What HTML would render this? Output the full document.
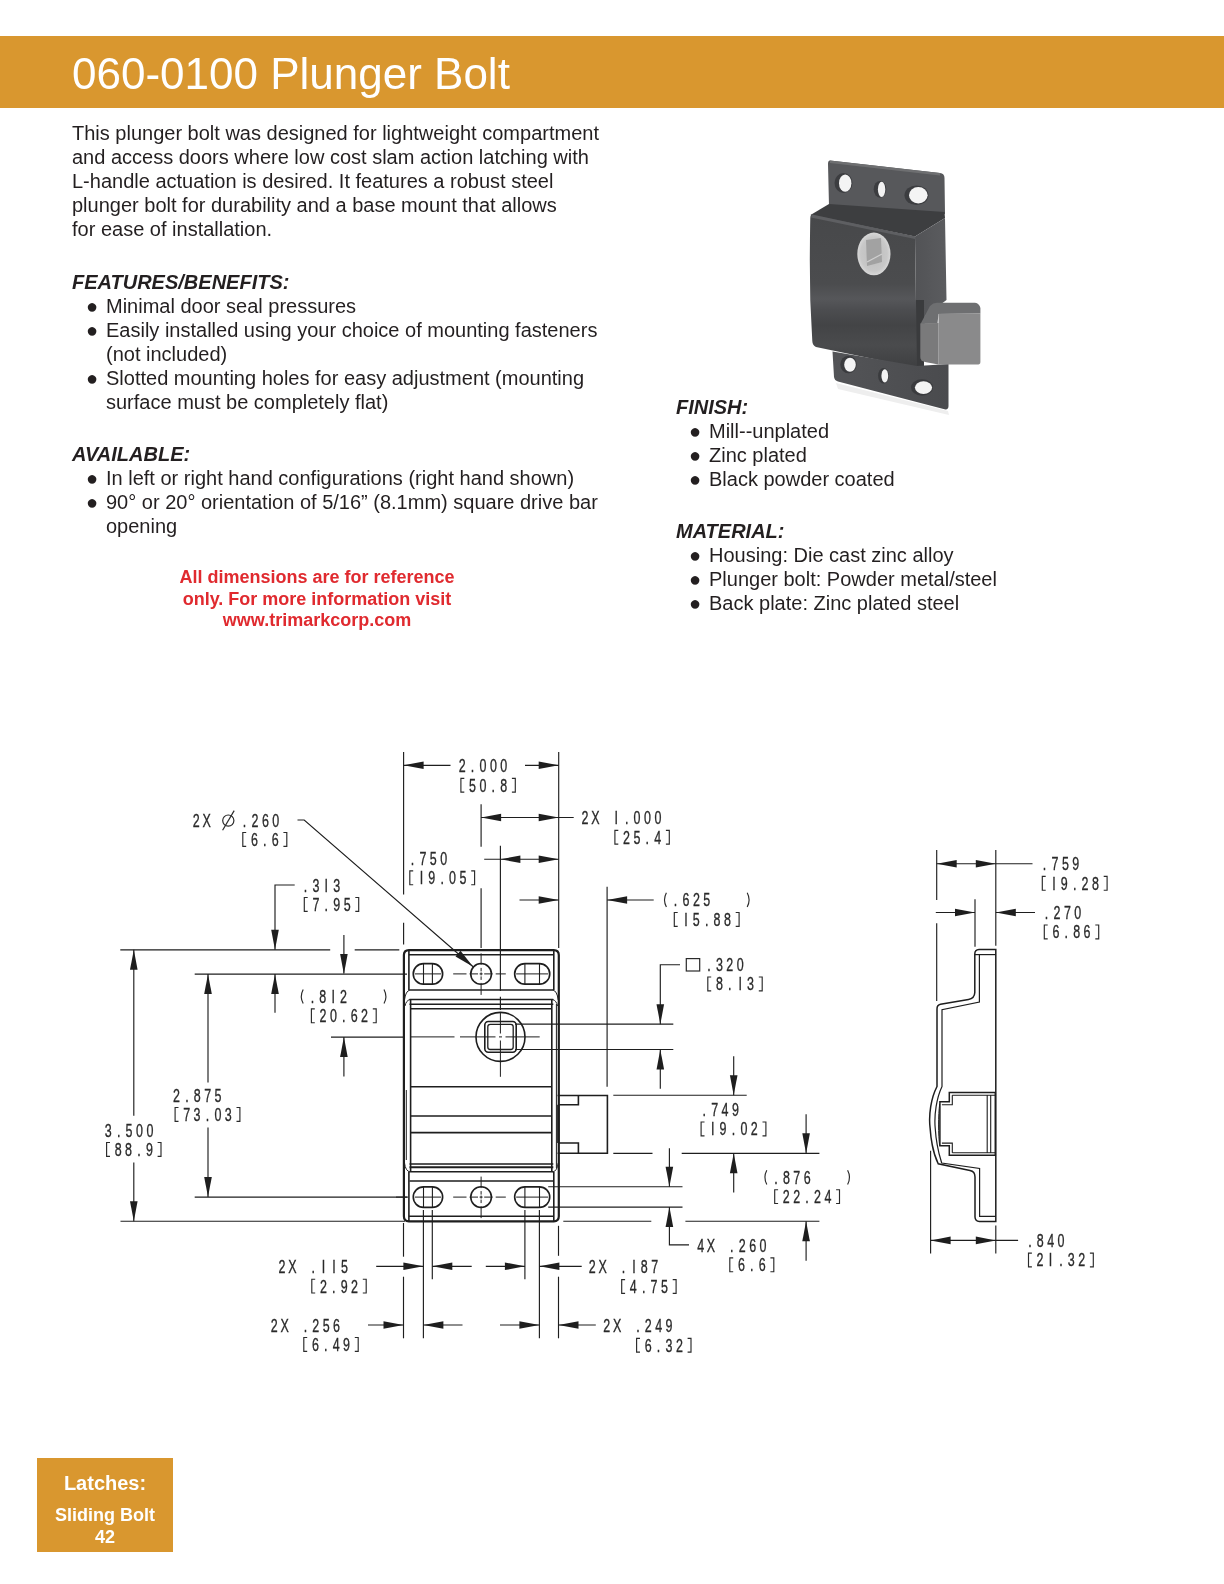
<!DOCTYPE html>
<html><head><meta charset="utf-8">
<style>
html,body{margin:0;padding:0;background:#fff;}
body{width:1224px;height:1584px;position:relative;overflow:hidden;font-family:"Liberation Sans",sans-serif;color:#231f20;}
.bar{position:absolute;left:0;top:36px;width:1224px;height:72px;background:#d9972f;}
.title{position:absolute;will-change:transform;left:72px;top:48px;font-size:44px;color:#fff;line-height:52px;white-space:nowrap;}
.t{position:absolute;will-change:transform;font-size:20px;line-height:24px;white-space:nowrap;}
.h{position:absolute;will-change:transform;font-size:20px;line-height:24px;font-weight:bold;font-style:italic;white-space:nowrap;}
.b{position:absolute;will-change:transform;font-size:20px;line-height:24px;white-space:nowrap;}
.red{position:absolute;will-change:transform;left:100px;width:434px;text-align:center;font-size:18px;line-height:21.7px;font-weight:bold;color:#e02a2f;}
.box{position:absolute;will-change:transform;left:37px;top:1458px;width:136px;height:94px;background:#d9972f;color:#fff;font-weight:bold;text-align:center;}
</style></head><body>
<div class="bar"></div>
<div class="title">060-0100 Plunger Bolt</div>

<div class="t" style="left:72px;top:121px">This plunger bolt was designed for lightweight compartment<br>and access doors where low cost slam action latching with<br>L-handle actuation is desired. It features a robust steel<br>plunger bolt for durability and a base mount that allows<br>for ease of installation.</div>

<div class="h" style="left:72px;top:270px">FEATURES/BENEFITS:</div>
<div class="b" style="left:86px;top:294px">●</div><div class="t" style="left:106px;top:294px">Minimal door seal pressures</div>
<div class="b" style="left:86px;top:318px">●</div><div class="t" style="left:106px;top:318px">Easily installed using your choice of mounting fasteners<br>(not included)</div>
<div class="b" style="left:86px;top:366px">●</div><div class="t" style="left:106px;top:366px">Slotted mounting holes for easy adjustment (mounting<br>surface must be completely flat)</div>

<div class="h" style="left:72px;top:442px">AVAILABLE:</div>
<div class="b" style="left:86px;top:466px">●</div><div class="t" style="left:106px;top:466px">In left or right hand configurations (right hand shown)</div>
<div class="b" style="left:86px;top:490px">●</div><div class="t" style="left:106px;top:490px">90° or 20° orientation of 5/16” (8.1mm) square drive bar<br>opening</div>

<div class="red" style="top:567px">All dimensions are for reference<br>only. For more information visit<br>www.trimarkcorp.com</div>

<div class="h" style="left:676px;top:395px">FINISH:</div>
<div class="b" style="left:689px;top:419px">●</div><div class="t" style="left:709px;top:419px">Mill--unplated</div>
<div class="b" style="left:689px;top:443px">●</div><div class="t" style="left:709px;top:443px">Zinc plated</div>
<div class="b" style="left:689px;top:467px">●</div><div class="t" style="left:709px;top:467px">Black powder coated</div>

<div class="h" style="left:676px;top:519px">MATERIAL:</div>
<div class="b" style="left:689px;top:543px">●</div><div class="t" style="left:709px;top:543px">Housing: Die cast zinc alloy</div>
<div class="b" style="left:689px;top:567px">●</div><div class="t" style="left:709px;top:567px">Plunger bolt: Powder metal/steel</div>
<div class="b" style="left:689px;top:591px">●</div><div class="t" style="left:709px;top:591px">Back plate: Zinc plated steel</div>

<div class="box">
<div style="position:absolute;left:0;width:136px;top:14.1px;font-size:20px;line-height:22px">Latches:</div>
<div style="position:absolute;left:0;width:136px;top:47px;font-size:18px;line-height:21.6px">Sliding Bolt<br>42</div>
</div>

<!--DRAWING-->
<svg style="position:absolute;left:0;top:0" width="1224" height="1584" viewBox="0 0 1224 1584">
<defs>
<linearGradient id="hf" x1="0" y1="0" x2="0" y2="1">
<stop offset="0" stop-color="#47484a"/>
<stop offset="0.45" stop-color="#4b4c4e"/>
<stop offset="0.55" stop-color="#56575a"/>
<stop offset="0.62" stop-color="#4c4d50"/>
<stop offset="0.72" stop-color="#434446"/>
<stop offset="0.85" stop-color="#4a4b4d"/>
<stop offset="1" stop-color="#3e3f41"/>
</linearGradient>
<linearGradient id="hs" x1="0" y1="0" x2="1" y2="0">
<stop offset="0" stop-color="#525356"/>
<stop offset="1" stop-color="#5b5c5f"/>
</linearGradient>
<linearGradient id="bp" x1="0" y1="0" x2="1" y2="0">
<stop offset="0" stop-color="#535457"/>
<stop offset="1" stop-color="#4a4b4e"/>
</linearGradient>
<radialGradient id="dh" cx="0.5" cy="0.5" r="0.5">
<stop offset="0" stop-color="#bdbdbd"/>
<stop offset="0.8" stop-color="#c8c8c8"/>
<stop offset="1" stop-color="#d8d8d8"/>
</radialGradient>
</defs>
<g id="photo">
<!-- soft shadow under bottom plate -->
<path d="M836,383 L948,411 L949,415 L838,389 Z" fill="#eeeeee"/>
<!-- top plate -->
<path d="M830,160.5 L940,173 Q944.5,173.6 944.5,178 L945,214 L829,206 L828,164 Q828,160.3 830,160.5 Z" fill="#57585b"/>
<path d="M830,160.5 L940,173 L940,175.5 L830,163 Z" fill="#6e6f71"/>
<!-- plate holes -->
<ellipse cx="843.5" cy="183" rx="9" ry="10" fill="#3c3d40"/>
<ellipse cx="845.2" cy="183.2" rx="6.2" ry="8.6" fill="#f4f4f4"/>
<ellipse cx="880" cy="189.3" rx="6.3" ry="8.4" fill="#3c3d40"/>
<ellipse cx="881.6" cy="189.4" rx="3.7" ry="7.6" fill="#f2f2f2"/>
<ellipse cx="916.5" cy="195.3" rx="12" ry="9.8" fill="#3c3d40"/>
<ellipse cx="918.3" cy="195.2" rx="9.3" ry="8.2" fill="#f4f4f4"/>
<!-- housing top recess -->
<path d="M810.5,215 L829,204 L944.5,212 L945,218 L915,236.5 Z" fill="#3d3e40"/>
<!-- housing right side -->
<path d="M915,236.5 L945,218 L946.5,300 L925,316 L922,368 L917,368 Z" fill="url(#hs)"/>
<path d="M915.5,300 L924,300 L924,369 L915.5,369 Z" fill="#3a3b3d"/>
<!-- housing front face -->
<path d="M812,214.5 L915,236.5 L917,368 L816,347 Q812.5,345.5 812.3,341 Q809.5,300 809.8,260 Q810,230 810.3,218 Q810.5,214.5 812,214.5 Z" fill="url(#hf)"/>
<path d="M812,214.5 L915,236.5 L915,239 L811,217.5 Z" fill="#5e5f62"/>
<!-- bottom plate -->
<path d="M832.5,351.5 L917,366 L948.5,364 L948.5,406 Q948.5,410 944.5,409.3 L838,381.5 Q834.5,380.5 834,377 Z" fill="url(#bp)"/>
<ellipse cx="848.5" cy="364.5" rx="8.2" ry="8.8" fill="#3a3b3e"/>
<ellipse cx="850" cy="364.8" rx="5.8" ry="7" fill="#f4f4f4"/>
<ellipse cx="883.5" cy="375.8" rx="5.4" ry="7.8" fill="#3a3b3e"/>
<ellipse cx="884.8" cy="375.8" rx="3.4" ry="6.6" fill="#f2f2f2"/>
<ellipse cx="922" cy="387.5" rx="11" ry="8.2" fill="#3a3b3e"/>
<ellipse cx="923.5" cy="387.6" rx="8.6" ry="6.3" fill="#f4f4f4"/>
<!-- drive hole -->
<ellipse cx="873.9" cy="253.9" rx="16.6" ry="21.4" fill="url(#dh)"/>
<path d="M866,240 L881,238 L882,262 L867,266 Z" fill="#a2a2a2"/>
<path d="M867,262 L882,254" stroke="#d0d0d0" stroke-width="1.2"/>
<!-- bolt -->
<path d="M920.5,324 L930,306 Q933,302.8 937,302.8 L975,302.8 Q979.5,303.5 980.4,308 L980.4,313.5 L938.5,314 L937.5,323.5 Z" fill="#6e6f71"/>
<path d="M938.5,313.8 L980.4,313.4 L980.4,362 Q980.4,364.6 977,364.6 L938.5,364.6 Z" fill="#8a8a8b"/>
<path d="M920.3,323.5 L938.5,323 L938.5,364.5 L925,362 Q920.3,361 920.3,357 Z" fill="#7a7a7b"/>
</g>

<path d="M464.30,778.30 H460.90 V792.10 H464.30" stroke="#2a2a2a" stroke-width="1.15" fill="none"/>
<path d="M511.90,778.30 H515.30 V792.10 H511.90" stroke="#2a2a2a" stroke-width="1.15" fill="none"/>
<path d="M246.20,832.50 H242.80 V846.30 H246.20" stroke="#2a2a2a" stroke-width="1.15" fill="none"/>
<path d="M283.40,832.50 H286.80 V846.30 H283.40" stroke="#2a2a2a" stroke-width="1.15" fill="none"/>
<path d="M618.30,830.30 H614.90 V844.10 H618.30" stroke="#2a2a2a" stroke-width="1.15" fill="none"/>
<path d="M665.90,830.30 H669.30 V844.10 H665.90" stroke="#2a2a2a" stroke-width="1.15" fill="none"/>
<path d="M413.20,870.90 H409.80 V884.70 H413.20" stroke="#2a2a2a" stroke-width="1.15" fill="none"/>
<path d="M471.20,870.90 H474.60 V884.70 H471.20" stroke="#2a2a2a" stroke-width="1.15" fill="none"/>
<path d="M307.70,897.50 H304.30 V911.30 H307.70" stroke="#2a2a2a" stroke-width="1.15" fill="none"/>
<path d="M355.30,897.50 H358.70 V911.30 H355.30" stroke="#2a2a2a" stroke-width="1.15" fill="none"/>
<path d="M666.40,892.70 Q662.60,899.80 666.40,906.90" stroke="#2a2a2a" stroke-width="1.15" fill="none"/>
<path d="M747.20,892.70 Q751.00,899.80 747.20,906.90" stroke="#2a2a2a" stroke-width="1.15" fill="none"/>
<path d="M677.70,912.50 H674.30 V926.30 H677.70" stroke="#2a2a2a" stroke-width="1.15" fill="none"/>
<path d="M735.70,912.50 H739.10 V926.30 H735.70" stroke="#2a2a2a" stroke-width="1.15" fill="none"/>
<path d="M303.20,989.40 Q299.40,996.50 303.20,1003.60" stroke="#2a2a2a" stroke-width="1.15" fill="none"/>
<path d="M384.00,989.40 Q387.80,996.50 384.00,1003.60" stroke="#2a2a2a" stroke-width="1.15" fill="none"/>
<path d="M314.80,1008.90 H311.40 V1022.70 H314.80" stroke="#2a2a2a" stroke-width="1.15" fill="none"/>
<path d="M372.80,1008.90 H376.20 V1022.70 H372.80" stroke="#2a2a2a" stroke-width="1.15" fill="none"/>
<path d="M711.20,977.00 H707.80 V990.80 H711.20" stroke="#2a2a2a" stroke-width="1.15" fill="none"/>
<path d="M758.80,977.00 H762.20 V990.80 H758.80" stroke="#2a2a2a" stroke-width="1.15" fill="none"/>
<path d="M178.50,1107.50 H175.10 V1121.30 H178.50" stroke="#2a2a2a" stroke-width="1.15" fill="none"/>
<path d="M236.50,1107.50 H239.90 V1121.30 H236.50" stroke="#2a2a2a" stroke-width="1.15" fill="none"/>
<path d="M110.00,1142.50 H106.60 V1156.30 H110.00" stroke="#2a2a2a" stroke-width="1.15" fill="none"/>
<path d="M157.60,1142.50 H161.00 V1156.30 H157.60" stroke="#2a2a2a" stroke-width="1.15" fill="none"/>
<path d="M704.50,1122.00 H701.10 V1135.80 H704.50" stroke="#2a2a2a" stroke-width="1.15" fill="none"/>
<path d="M762.50,1122.00 H765.90 V1135.80 H762.50" stroke="#2a2a2a" stroke-width="1.15" fill="none"/>
<path d="M766.80,1170.30 Q763.00,1177.40 766.80,1184.50" stroke="#2a2a2a" stroke-width="1.15" fill="none"/>
<path d="M847.60,1170.30 Q851.40,1177.40 847.60,1184.50" stroke="#2a2a2a" stroke-width="1.15" fill="none"/>
<path d="M778.10,1189.70 H774.70 V1203.50 H778.10" stroke="#2a2a2a" stroke-width="1.15" fill="none"/>
<path d="M836.10,1189.70 H839.50 V1203.50 H836.10" stroke="#2a2a2a" stroke-width="1.15" fill="none"/>
<path d="M733.20,1257.90 H729.80 V1271.70 H733.20" stroke="#2a2a2a" stroke-width="1.15" fill="none"/>
<path d="M770.40,1257.90 H773.80 V1271.70 H770.40" stroke="#2a2a2a" stroke-width="1.15" fill="none"/>
<path d="M315.20,1279.20 H311.80 V1293.00 H315.20" stroke="#2a2a2a" stroke-width="1.15" fill="none"/>
<path d="M362.80,1279.20 H366.20 V1293.00 H362.80" stroke="#2a2a2a" stroke-width="1.15" fill="none"/>
<path d="M625.10,1279.60 H621.70 V1293.40 H625.10" stroke="#2a2a2a" stroke-width="1.15" fill="none"/>
<path d="M672.70,1279.60 H676.10 V1293.40 H672.70" stroke="#2a2a2a" stroke-width="1.15" fill="none"/>
<path d="M307.20,1337.50 H303.80 V1351.30 H307.20" stroke="#2a2a2a" stroke-width="1.15" fill="none"/>
<path d="M354.80,1337.50 H358.20 V1351.30 H354.80" stroke="#2a2a2a" stroke-width="1.15" fill="none"/>
<path d="M640.00,1338.30 H636.60 V1352.10 H640.00" stroke="#2a2a2a" stroke-width="1.15" fill="none"/>
<path d="M687.60,1338.30 H691.00 V1352.10 H687.60" stroke="#2a2a2a" stroke-width="1.15" fill="none"/>
<path d="M1045.70,876.40 H1042.30 V890.20 H1045.70" stroke="#2a2a2a" stroke-width="1.15" fill="none"/>
<path d="M1103.70,876.40 H1107.10 V890.20 H1103.70" stroke="#2a2a2a" stroke-width="1.15" fill="none"/>
<path d="M1047.70,925.00 H1044.30 V938.80 H1047.70" stroke="#2a2a2a" stroke-width="1.15" fill="none"/>
<path d="M1095.30,925.00 H1098.70 V938.80 H1095.30" stroke="#2a2a2a" stroke-width="1.15" fill="none"/>
<path d="M1031.90,1253.10 H1028.50 V1266.90 H1031.90" stroke="#2a2a2a" stroke-width="1.15" fill="none"/>
<path d="M1089.90,1253.10 H1093.30 V1266.90 H1089.90" stroke="#2a2a2a" stroke-width="1.15" fill="none"/>
<circle cx="228.3" cy="820.6" r="5.6" stroke="#2a2a2a" stroke-width="1.2" fill="none"/>
<line x1="222.6" y1="830.3" x2="234.2" y2="810.6" stroke="#2a2a2a" stroke-width="1.2"/>
<rect x="686.3" y="958.6" width="13.4" height="12.4" stroke="#2a2a2a" stroke-width="1.2" fill="none"/>
<line x1="403.6" y1="752" x2="403.6" y2="894.4" stroke="#1e1e1e" stroke-width="1.15"/>
<line x1="403.6" y1="922.8" x2="403.6" y2="944.4" stroke="#1e1e1e" stroke-width="1.15"/>
<line x1="558.7" y1="752" x2="558.7" y2="948" stroke="#1e1e1e" stroke-width="1.15"/>
<line x1="403.6" y1="765.3" x2="450.5" y2="765.3" stroke="#1e1e1e" stroke-width="1.15"/>
<polygon points="403.60,765.30 423.60,761.50 423.60,769.10" fill="#1e1e1e"/>
<line x1="525" y1="765.3" x2="558.7" y2="765.3" stroke="#1e1e1e" stroke-width="1.15"/>
<polygon points="558.70,765.30 538.70,761.50 538.70,769.10" fill="#1e1e1e"/>
<line x1="481.1" y1="804.2" x2="481.1" y2="846.7" stroke="#1e1e1e" stroke-width="1.15"/>
<line x1="481.1" y1="888.3" x2="481.1" y2="948" stroke="#1e1e1e" stroke-width="1.15"/>
<line x1="481.1" y1="817.5" x2="573.7" y2="817.5" stroke="#1e1e1e" stroke-width="1.15"/>
<polygon points="481.10,817.50 501.10,813.70 501.10,821.30" fill="#1e1e1e"/>
<polygon points="558.70,817.50 538.70,813.70 538.70,821.30" fill="#1e1e1e"/>
<line x1="500.4" y1="845.8" x2="500.4" y2="991" stroke="#1e1e1e" stroke-width="1.15"/>
<line x1="500.4" y1="996.7" x2="500.4" y2="1010" stroke="#1e1e1e" stroke-width="1.15"/>
<line x1="484.2" y1="859.2" x2="558.7" y2="859.2" stroke="#1e1e1e" stroke-width="1.15"/>
<polygon points="500.40,859.20 520.40,855.40 520.40,863.00" fill="#1e1e1e"/>
<polygon points="558.70,859.20 538.70,855.40 538.70,863.00" fill="#1e1e1e"/>
<line x1="519.5" y1="900" x2="558.7" y2="900" stroke="#1e1e1e" stroke-width="1.15"/>
<polygon points="558.70,900.00 538.70,896.20 538.70,903.80" fill="#1e1e1e"/>
<line x1="607.1" y1="886.7" x2="607.1" y2="1086.7" stroke="#1e1e1e" stroke-width="1.15"/>
<line x1="607.1" y1="900" x2="653.7" y2="900" stroke="#1e1e1e" stroke-width="1.15"/>
<polygon points="607.10,900.00 627.10,896.20 627.10,903.80" fill="#1e1e1e"/>
<path d="M297.5,820 H304.2 L473.1,966.7" stroke="#1e1e1e" stroke-width="1.15" fill="none"/>
<polygon points="473.10,966.70 455.51,956.45 460.49,950.72" fill="#1e1e1e"/>
<path d="M294.7,885 H275 V949.7" stroke="#1e1e1e" stroke-width="1.15" fill="none"/>
<polygon points="275.00,949.70 271.20,929.70 278.80,929.70" fill="#1e1e1e"/>
<line x1="275" y1="974.1" x2="275" y2="1012.8" stroke="#1e1e1e" stroke-width="1.15"/>
<polygon points="275.00,974.10 271.20,994.10 278.80,994.10" fill="#1e1e1e"/>
<line x1="120.3" y1="949.8" x2="330.2" y2="949.8" stroke="#1e1e1e" stroke-width="1.15"/>
<line x1="354.7" y1="949.8" x2="399.3" y2="949.8" stroke="#1e1e1e" stroke-width="1.15"/>
<line x1="194.7" y1="974.1" x2="407" y2="974.1" stroke="#1e1e1e" stroke-width="1.15"/>
<line x1="331" y1="1037.1" x2="404" y2="1037.1" stroke="#1e1e1e" stroke-width="1.15"/>
<line x1="194.7" y1="1197.1" x2="407.7" y2="1197.1" stroke="#1e1e1e" stroke-width="1.15"/>
<line x1="120.5" y1="1221.2" x2="405" y2="1221.2" stroke="#1e1e1e" stroke-width="1.15"/>
<line x1="133.8" y1="949.8" x2="133.8" y2="1115.8" stroke="#1e1e1e" stroke-width="1.15"/>
<line x1="133.8" y1="1162.5" x2="133.8" y2="1221.2" stroke="#1e1e1e" stroke-width="1.15"/>
<polygon points="133.80,949.80 130.00,969.80 137.60,969.80" fill="#1e1e1e"/>
<polygon points="133.80,1221.20 130.00,1201.20 137.60,1201.20" fill="#1e1e1e"/>
<line x1="208" y1="974.1" x2="208" y2="1082.5" stroke="#1e1e1e" stroke-width="1.15"/>
<line x1="208" y1="1127.5" x2="208" y2="1197.1" stroke="#1e1e1e" stroke-width="1.15"/>
<polygon points="208.00,974.10 204.20,994.10 211.80,994.10" fill="#1e1e1e"/>
<polygon points="208.00,1197.10 204.20,1177.10 211.80,1177.10" fill="#1e1e1e"/>
<line x1="343.9" y1="934.9" x2="343.9" y2="973.6" stroke="#1e1e1e" stroke-width="1.15"/>
<polygon points="343.90,974.10 340.10,954.10 347.70,954.10" fill="#1e1e1e"/>
<line x1="343.9" y1="1037.1" x2="343.9" y2="1076.6" stroke="#1e1e1e" stroke-width="1.15"/>
<polygon points="343.90,1037.10 340.10,1057.10 347.70,1057.10" fill="#1e1e1e"/>
<path d="M680,964.7 H660.3 V1024.2" stroke="#1e1e1e" stroke-width="1.15" fill="none"/>
<polygon points="660.30,1024.20 656.50,1004.20 664.10,1004.20" fill="#1e1e1e"/>
<line x1="515" y1="1024.2" x2="673.3" y2="1024.2" stroke="#1e1e1e" stroke-width="1.15"/>
<line x1="515" y1="1049.5" x2="673.3" y2="1049.5" stroke="#1e1e1e" stroke-width="1.15"/>
<line x1="660.3" y1="1049.5" x2="660.3" y2="1088.7" stroke="#1e1e1e" stroke-width="1.15"/>
<polygon points="660.30,1049.50 656.50,1069.50 664.10,1069.50" fill="#1e1e1e"/>
<line x1="733.7" y1="1056.3" x2="733.7" y2="1095.2" stroke="#1e1e1e" stroke-width="1.15"/>
<polygon points="733.70,1095.20 729.90,1075.20 737.50,1075.20" fill="#1e1e1e"/>
<line x1="613.3" y1="1095.2" x2="746.7" y2="1095.2" stroke="#1e1e1e" stroke-width="1.15"/>
<line x1="613.3" y1="1153.3" x2="652.5" y2="1153.3" stroke="#1e1e1e" stroke-width="1.15"/>
<line x1="681.7" y1="1153.3" x2="819.4" y2="1153.3" stroke="#1e1e1e" stroke-width="1.15"/>
<line x1="733.7" y1="1153.3" x2="733.7" y2="1192.5" stroke="#1e1e1e" stroke-width="1.15"/>
<polygon points="733.70,1153.30 729.90,1173.30 737.50,1173.30" fill="#1e1e1e"/>
<line x1="548.2" y1="1186.7" x2="682.5" y2="1186.7" stroke="#1e1e1e" stroke-width="1.15"/>
<line x1="548.2" y1="1207.1" x2="682.5" y2="1207.1" stroke="#1e1e1e" stroke-width="1.15"/>
<line x1="669.4" y1="1148.3" x2="669.4" y2="1186.7" stroke="#1e1e1e" stroke-width="1.15"/>
<polygon points="669.40,1186.70 665.60,1166.70 673.20,1166.70" fill="#1e1e1e"/>
<path d="M669.4,1207.1 V1244.8 H689" stroke="#1e1e1e" stroke-width="1.15" fill="none"/>
<polygon points="669.40,1207.10 665.60,1227.10 673.20,1227.10" fill="#1e1e1e"/>
<line x1="563.3" y1="1221.2" x2="651.3" y2="1221.2" stroke="#1e1e1e" stroke-width="1.15"/>
<line x1="685.4" y1="1221.2" x2="819.4" y2="1221.2" stroke="#1e1e1e" stroke-width="1.15"/>
<line x1="806.1" y1="1114.3" x2="806.1" y2="1153.3" stroke="#1e1e1e" stroke-width="1.15"/>
<polygon points="806.10,1153.30 802.30,1133.30 809.90,1133.30" fill="#1e1e1e"/>
<line x1="806.1" y1="1221.2" x2="806.1" y2="1260.7" stroke="#1e1e1e" stroke-width="1.15"/>
<polygon points="806.10,1221.20 802.30,1241.20 809.90,1241.20" fill="#1e1e1e"/>
<line x1="403.5" y1="1223" x2="403.5" y2="1256.7" stroke="#1e1e1e" stroke-width="1.15"/>
<line x1="403.5" y1="1276.7" x2="403.5" y2="1338.3" stroke="#1e1e1e" stroke-width="1.15"/>
<line x1="423.4" y1="1210" x2="423.4" y2="1338.3" stroke="#1e1e1e" stroke-width="1.15"/>
<line x1="432.3" y1="1210" x2="432.3" y2="1279.2" stroke="#1e1e1e" stroke-width="1.15"/>
<line x1="524.9" y1="1210" x2="524.9" y2="1279.2" stroke="#1e1e1e" stroke-width="1.15"/>
<line x1="539.4" y1="1210" x2="539.4" y2="1338.3" stroke="#1e1e1e" stroke-width="1.15"/>
<line x1="558.5" y1="1225.8" x2="558.5" y2="1255.8" stroke="#1e1e1e" stroke-width="1.15"/>
<line x1="558.5" y1="1276.7" x2="558.5" y2="1338.3" stroke="#1e1e1e" stroke-width="1.15"/>
<line x1="376.2" y1="1266.3" x2="423.4" y2="1266.3" stroke="#1e1e1e" stroke-width="1.15"/>
<polygon points="423.40,1266.30 403.40,1262.50 403.40,1270.10" fill="#1e1e1e"/>
<line x1="432.3" y1="1266.3" x2="471.7" y2="1266.3" stroke="#1e1e1e" stroke-width="1.15"/>
<polygon points="432.30,1266.30 452.30,1262.50 452.30,1270.10" fill="#1e1e1e"/>
<line x1="485.8" y1="1266.3" x2="524.9" y2="1266.3" stroke="#1e1e1e" stroke-width="1.15"/>
<polygon points="524.90,1266.30 504.90,1262.50 504.90,1270.10" fill="#1e1e1e"/>
<line x1="539.4" y1="1266.3" x2="581.7" y2="1266.3" stroke="#1e1e1e" stroke-width="1.15"/>
<polygon points="539.40,1266.30 559.40,1262.50 559.40,1270.10" fill="#1e1e1e"/>
<line x1="368" y1="1325" x2="403.5" y2="1325" stroke="#1e1e1e" stroke-width="1.15"/>
<polygon points="403.50,1325.00 383.50,1321.20 383.50,1328.80" fill="#1e1e1e"/>
<line x1="423.4" y1="1325" x2="462.5" y2="1325" stroke="#1e1e1e" stroke-width="1.15"/>
<polygon points="423.40,1325.00 443.40,1321.20 443.40,1328.80" fill="#1e1e1e"/>
<line x1="500" y1="1325" x2="539.4" y2="1325" stroke="#1e1e1e" stroke-width="1.15"/>
<polygon points="539.40,1325.00 519.40,1321.20 519.40,1328.80" fill="#1e1e1e"/>
<line x1="558.5" y1="1325" x2="595.8" y2="1325" stroke="#1e1e1e" stroke-width="1.15"/>
<polygon points="558.50,1325.00 578.50,1321.20 578.50,1328.80" fill="#1e1e1e"/>
<line x1="936.7" y1="850" x2="936.7" y2="900" stroke="#1e1e1e" stroke-width="1.15"/>
<line x1="936.7" y1="923.3" x2="936.7" y2="1001" stroke="#1e1e1e" stroke-width="1.15"/>
<line x1="995.8" y1="850" x2="995.8" y2="945.8" stroke="#1e1e1e" stroke-width="1.15"/>
<line x1="975" y1="899.2" x2="975" y2="946.7" stroke="#1e1e1e" stroke-width="1.15"/>
<line x1="936.7" y1="863.7" x2="1032.5" y2="863.7" stroke="#1e1e1e" stroke-width="1.15"/>
<polygon points="936.70,863.70 956.70,859.90 956.70,867.50" fill="#1e1e1e"/>
<polygon points="995.80,863.70 975.80,859.90 975.80,867.50" fill="#1e1e1e"/>
<line x1="935.8" y1="912.5" x2="975" y2="912.5" stroke="#1e1e1e" stroke-width="1.15"/>
<polygon points="975.00,912.50 955.00,908.70 955.00,916.30" fill="#1e1e1e"/>
<line x1="995.8" y1="912.5" x2="1035" y2="912.5" stroke="#1e1e1e" stroke-width="1.15"/>
<polygon points="995.80,912.50 1015.80,908.70 1015.80,916.30" fill="#1e1e1e"/>
<line x1="930.6" y1="1150.7" x2="930.6" y2="1253.6" stroke="#1e1e1e" stroke-width="1.15"/>
<line x1="995.8" y1="1225.6" x2="995.8" y2="1253.6" stroke="#1e1e1e" stroke-width="1.15"/>
<line x1="930.6" y1="1240.4" x2="1018.1" y2="1240.4" stroke="#1e1e1e" stroke-width="1.15"/>
<polygon points="930.60,1240.40 950.60,1236.60 950.60,1244.20" fill="#1e1e1e"/>
<polygon points="995.80,1240.40 975.80,1236.60 975.80,1244.20" fill="#1e1e1e"/>
<path d="M408.9,950.1 H553.8 Q558.8,950.1 558.8,955.1 V1216.3 Q558.8,1221.3 553.8,1221.3 H408.9 Q403.9,1221.3 403.9,1216.3 V955.1 Q403.9,950.1 408.9,950.1 Z" stroke="#1e1e1e" stroke-width="2.2" fill="none"/>
<line x1="408.9" y1="954.8" x2="553.8" y2="954.8" stroke="#1e1e1e" stroke-width="1.6"/>
<line x1="408.9" y1="950.5" x2="408.9" y2="990" stroke="#1e1e1e" stroke-width="1.6"/>
<line x1="553.8" y1="950.5" x2="553.8" y2="990" stroke="#1e1e1e" stroke-width="1.6"/>
<line x1="409.5" y1="990" x2="553.3" y2="990" stroke="#1e1e1e" stroke-width="1.6"/>
<path d="M404.5,1000 Q405.5,991 410,990" stroke="#1e1e1e" stroke-width="1.0" fill="none"/>
<path d="M558.2,1000 Q557.2,991 552.8,990" stroke="#1e1e1e" stroke-width="1.0" fill="none"/>
<line x1="409.5" y1="999.5" x2="553.3" y2="999.5" stroke="#1e1e1e" stroke-width="1.6"/>
<line x1="409.5" y1="1004.3" x2="553.3" y2="1004.3" stroke="#1e1e1e" stroke-width="1.6"/>
<line x1="410.6" y1="1008.7" x2="552" y2="1008.7" stroke="#1e1e1e" stroke-width="1.6"/>
<path d="M405,1006 Q406,1000.5 410,999.5" stroke="#1e1e1e" stroke-width="1.0" fill="none"/>
<path d="M557.5,1006 Q556.5,1000.5 552.5,999.5" stroke="#1e1e1e" stroke-width="1.0" fill="none"/>
<line x1="410.6" y1="999.5" x2="410.6" y2="1172" stroke="#1e1e1e" stroke-width="1.6"/>
<line x1="551.8" y1="999.5" x2="551.8" y2="1172" stroke="#1e1e1e" stroke-width="1.6"/>
<line x1="556.4" y1="1004" x2="556.4" y2="1168" stroke="#1e1e1e" stroke-width="1.0"/>
<line x1="406.3" y1="1090" x2="406.3" y2="1160" stroke="#1e1e1e" stroke-width="1.0"/>
<line x1="410.6" y1="1086.7" x2="551.8" y2="1086.7" stroke="#1e1e1e" stroke-width="1.6"/>
<line x1="410.6" y1="1116" x2="551.8" y2="1116" stroke="#1e1e1e" stroke-width="1.6"/>
<line x1="410.6" y1="1132.6" x2="551.8" y2="1132.6" stroke="#1e1e1e" stroke-width="1.6"/>
<line x1="409.5" y1="1164" x2="553.3" y2="1164" stroke="#1e1e1e" stroke-width="1.6"/>
<line x1="409.5" y1="1167.3" x2="553.3" y2="1167.3" stroke="#1e1e1e" stroke-width="1.9"/>
<line x1="409.5" y1="1171.8" x2="553.3" y2="1171.8" stroke="#1e1e1e" stroke-width="1.6"/>
<path d="M404.5,1163 Q405.5,1171 410,1172" stroke="#1e1e1e" stroke-width="1.0" fill="none"/>
<path d="M558.2,1163 Q557.2,1171 552.8,1172" stroke="#1e1e1e" stroke-width="1.0" fill="none"/>
<line x1="409.5" y1="1181" x2="553.3" y2="1181" stroke="#1e1e1e" stroke-width="1.6"/>
<line x1="408.9" y1="1172" x2="408.9" y2="1221" stroke="#1e1e1e" stroke-width="1.6"/>
<line x1="553.8" y1="1172" x2="553.8" y2="1221" stroke="#1e1e1e" stroke-width="1.6"/>
<line x1="408.9" y1="1216.3" x2="553.8" y2="1216.3" stroke="#1e1e1e" stroke-width="1.6"/>
<path d="M423.50,963.65 H432.40 A10.25,10.25 0 0 1 432.40,984.15 H423.50 A10.25,10.25 0 0 1 423.50,963.65 Z" stroke="#1e1e1e" stroke-width="1.6" fill="none"/>
<line x1="423.5" y1="963.65" x2="423.5" y2="984.15" stroke="#1e1e1e" stroke-width="1.1"/>
<line x1="432.4" y1="963.65" x2="432.4" y2="984.15" stroke="#1e1e1e" stroke-width="1.1"/>
<line x1="414.75" y1="973.9" x2="441.15" y2="973.9" stroke="#1e1e1e" stroke-width="1.0"/>
<path d="M524.90,963.65 H539.50 A10.25,10.25 0 0 1 539.50,984.15 H524.90 A10.25,10.25 0 0 1 524.90,963.65 Z" stroke="#1e1e1e" stroke-width="1.6" fill="none"/>
<line x1="524.9" y1="963.65" x2="524.9" y2="984.15" stroke="#1e1e1e" stroke-width="1.1"/>
<line x1="539.5" y1="963.65" x2="539.5" y2="984.15" stroke="#1e1e1e" stroke-width="1.1"/>
<line x1="516.15" y1="973.9" x2="548.25" y2="973.9" stroke="#1e1e1e" stroke-width="1.0"/>
<circle cx="481.1" cy="973.9" r="10.35" stroke="#1e1e1e" stroke-width="1.6" fill="none"/>
<line x1="453.2" y1="973.9" x2="466.5" y2="973.9" stroke="#1e1e1e" stroke-width="1.0"/>
<line x1="469.5" y1="973.9" x2="478" y2="973.9" stroke="#1e1e1e" stroke-width="1.0"/>
<line x1="479.6" y1="973.9" x2="482.6" y2="973.9" stroke="#1e1e1e" stroke-width="1.0"/>
<line x1="484.2" y1="973.9" x2="492.7" y2="973.9" stroke="#1e1e1e" stroke-width="1.0"/>
<line x1="495.7" y1="973.9" x2="505.8" y2="973.9" stroke="#1e1e1e" stroke-width="1.0"/>
<line x1="481.1" y1="953.4" x2="481.1" y2="964.9" stroke="#1e1e1e" stroke-width="1.0"/>
<line x1="481.1" y1="967.9" x2="481.1" y2="971.4" stroke="#1e1e1e" stroke-width="1.0"/>
<line x1="481.1" y1="972.4" x2="481.1" y2="975.4" stroke="#1e1e1e" stroke-width="1.0"/>
<line x1="481.1" y1="976.4" x2="481.1" y2="979.9" stroke="#1e1e1e" stroke-width="1.0"/>
<line x1="481.1" y1="982.9" x2="481.1" y2="994.9" stroke="#1e1e1e" stroke-width="1.0"/>
<path d="M423.50,1186.85 H432.40 A10.25,10.25 0 0 1 432.40,1207.35 H423.50 A10.25,10.25 0 0 1 423.50,1186.85 Z" stroke="#1e1e1e" stroke-width="1.6" fill="none"/>
<line x1="423.5" y1="1186.85" x2="423.5" y2="1207.35" stroke="#1e1e1e" stroke-width="1.1"/>
<line x1="432.4" y1="1186.85" x2="432.4" y2="1207.35" stroke="#1e1e1e" stroke-width="1.1"/>
<line x1="414.75" y1="1197.1" x2="441.15" y2="1197.1" stroke="#1e1e1e" stroke-width="1.0"/>
<path d="M524.90,1186.85 H539.50 A10.25,10.25 0 0 1 539.50,1207.35 H524.90 A10.25,10.25 0 0 1 524.90,1186.85 Z" stroke="#1e1e1e" stroke-width="1.6" fill="none"/>
<line x1="524.9" y1="1186.85" x2="524.9" y2="1207.35" stroke="#1e1e1e" stroke-width="1.1"/>
<line x1="539.5" y1="1186.85" x2="539.5" y2="1207.35" stroke="#1e1e1e" stroke-width="1.1"/>
<line x1="516.15" y1="1197.1" x2="548.25" y2="1197.1" stroke="#1e1e1e" stroke-width="1.0"/>
<circle cx="481.1" cy="1197.1" r="10.35" stroke="#1e1e1e" stroke-width="1.6" fill="none"/>
<line x1="453.2" y1="1197.1" x2="466.5" y2="1197.1" stroke="#1e1e1e" stroke-width="1.0"/>
<line x1="469.5" y1="1197.1" x2="478" y2="1197.1" stroke="#1e1e1e" stroke-width="1.0"/>
<line x1="479.6" y1="1197.1" x2="482.6" y2="1197.1" stroke="#1e1e1e" stroke-width="1.0"/>
<line x1="484.2" y1="1197.1" x2="492.7" y2="1197.1" stroke="#1e1e1e" stroke-width="1.0"/>
<line x1="495.7" y1="1197.1" x2="505.8" y2="1197.1" stroke="#1e1e1e" stroke-width="1.0"/>
<line x1="481.1" y1="1176.6" x2="481.1" y2="1188.1" stroke="#1e1e1e" stroke-width="1.0"/>
<line x1="481.1" y1="1191.1" x2="481.1" y2="1194.6" stroke="#1e1e1e" stroke-width="1.0"/>
<line x1="481.1" y1="1195.6" x2="481.1" y2="1198.6" stroke="#1e1e1e" stroke-width="1.0"/>
<line x1="481.1" y1="1199.6" x2="481.1" y2="1203.1" stroke="#1e1e1e" stroke-width="1.0"/>
<line x1="481.1" y1="1206.1" x2="481.1" y2="1218.1" stroke="#1e1e1e" stroke-width="1.0"/>
<line x1="396" y1="1197.1" x2="407.5" y2="1197.1" stroke="#1e1e1e" stroke-width="1.0"/>
<circle cx="500.5" cy="1036.9" r="24.5" stroke="#1e1e1e" stroke-width="1.6" fill="none"/>
<rect x="484.8" y="1021.5" width="31.4" height="30.8" rx="3.5" stroke="#1e1e1e" stroke-width="1.6" fill="none"/>
<rect x="487.8" y="1024.3" width="25.4" height="25.2" rx="2.5" stroke="#1e1e1e" stroke-width="1.3" fill="none"/>
<line x1="411" y1="1036.9" x2="454.5" y2="1036.9" stroke="#1e1e1e" stroke-width="1.0"/>
<line x1="460" y1="1036.9" x2="495.5" y2="1036.9" stroke="#1e1e1e" stroke-width="1.0"/>
<line x1="499" y1="1036.9" x2="502" y2="1036.9" stroke="#1e1e1e" stroke-width="1.0"/>
<line x1="505.5" y1="1036.9" x2="539.7" y2="1036.9" stroke="#1e1e1e" stroke-width="1.0"/>
<line x1="500.4" y1="1012" x2="500.4" y2="1033.5" stroke="#1e1e1e" stroke-width="1.0"/>
<line x1="500.4" y1="1040.5" x2="500.4" y2="1076.8" stroke="#1e1e1e" stroke-width="1.0"/>
<path d="M557.6,1095.5 H607.4 V1153.3 H557.6" stroke="#1e1e1e" stroke-width="1.6" fill="none"/>
<path d="M558,1104.8 H578.4 V1095.5" stroke="#1e1e1e" stroke-width="1.6" fill="none"/>
<path d="M558,1143 H578.4 V1153.3" stroke="#1e1e1e" stroke-width="1.6" fill="none"/>
<line x1="558.3" y1="1104.8" x2="558.3" y2="1143" stroke="#1e1e1e" stroke-width="2.3"/>
<path d="M995.8,949.6 H979 Q974.8,949.8 974.8,954 V992.5 Q974.5,998.5 968.5,999.4 L940.5,1004.3 Q937,1005 937,1009 V1086.5 C931,1098 928.5,1115 930.1,1128 C931,1142 934,1155 938.2,1163.8 L970,1170.6 Q975,1171.6 975,1177 V1217 Q975.2,1221.4 979.4,1221.4 H995.8 Z" stroke="#1e1e1e" stroke-width="1.5" fill="none"/>
<line x1="974.8" y1="954.6" x2="995.8" y2="954.6" stroke="#1e1e1e" stroke-width="1.2"/>
<path d="M979.4,954.6 V1002.1 L942,1009.7 V1086.5 C936.5,1098 934,1115 935.2,1128 C936,1142 938.5,1153 941.7,1163 L979.6,1168.4 V1216.4 H995.8" stroke="#1e1e1e" stroke-width="1.2" fill="none"/>
<path d="M939.7,1104 C938.2,1115 938.2,1135 939.7,1145.7" stroke="#1e1e1e" stroke-width="1.0" fill="none"/>
<path d="M949.3,1092.6 H995.3 V1155.3 H949.3 V1145.7 H939.9 V1101.7 H949.3 Z" stroke="#1e1e1e" stroke-width="1.5" fill="none"/>
<path d="M952.3,1095.2 H995 M952.3,1152.7 H995 M952.3,1095.2 V1104.7 H941.9 M941.9,1143.1 H952.3 V1152.7 M987.2,1095.2 V1152.7 M990.7,1095.2 V1152.7" stroke="#1e1e1e" stroke-width="1.1" fill="none"/>
<g font-family="Liberation Sans, sans-serif" font-size="19.2" fill="#2a2a2a" stroke="#2a2a2a" stroke-width="0.35" text-anchor="middle" opacity="0.999"><text transform="translate(0 772.3) scale(0.65 1)" x="711.08 727.08 743.08 759.08 775.08" y="0">2.000</text>
<text transform="translate(0 791.6) scale(0.65 1)" x="726.92 742.92 758.92 774.92" y="0">50.8</text>
<text transform="translate(0 827.0) scale(0.65 1)" x="302.00 318.00" y="0">2X</text>
<text transform="translate(0 827.0) scale(0.65 1)" x="376.31 392.31 408.31 424.31" y="0">.260</text>
<text transform="translate(0 845.8) scale(0.65 1)" x="391.38 407.38 423.38" y="0">6.6</text>
<text transform="translate(0 824.4) scale(0.65 1)" x="900.15 916.15 948.15 964.15 980.15 996.15 1012.15" y="0">2XI.000</text>
<text transform="translate(0 843.6) scale(0.65 1)" x="963.85 979.85 995.85 1011.85" y="0">25.4</text>
<text transform="translate(0 865.0) scale(0.65 1)" x="634.62 650.62 666.62 682.62" y="0">.750</text>
<text transform="translate(0 884.2) scale(0.65 1)" x="648.31 664.31 680.31 696.31 712.31" y="0">I9.05</text>
<text transform="translate(0 891.7) scale(0.65 1)" x="470.00 486.00 502.00 518.00" y="0">.3I3</text>
<text transform="translate(0 910.8) scale(0.65 1)" x="486.00 502.00 518.00 534.00" y="0">7.95</text>
<text transform="translate(0 906.3) scale(0.65 1)" x="1039.38 1055.38 1071.38 1087.38" y="0">.625</text>
<text transform="translate(0 925.8) scale(0.65 1)" x="1055.23 1071.23 1087.23 1103.23 1119.23" y="0">I5.88</text>
<text transform="translate(0 1003.0) scale(0.65 1)" x="480.62 496.62 512.62 528.62" y="0">.8I2</text>
<text transform="translate(0 1022.2) scale(0.65 1)" x="496.92 512.92 528.92 544.92 560.92" y="0">20.62</text>
<text transform="translate(0 971.3) scale(0.65 1)" x="1090.77 1106.77 1122.77 1138.77" y="0">.320</text>
<text transform="translate(0 990.3) scale(0.65 1)" x="1106.77 1122.77 1138.77 1154.77" y="0">8.I3</text>
<text transform="translate(0 1102.0) scale(0.65 1)" x="271.54 287.54 303.54 319.54 335.54" y="0">2.875</text>
<text transform="translate(0 1120.8) scale(0.65 1)" x="287.23 303.23 319.23 335.23 351.23" y="0">73.03</text>
<text transform="translate(0 1136.7) scale(0.65 1)" x="166.62 182.62 198.62 214.62 230.62" y="0">3.500</text>
<text transform="translate(0 1155.8) scale(0.65 1)" x="181.85 197.85 213.85 229.85" y="0">88.9</text>
<text transform="translate(0 1115.8) scale(0.65 1)" x="1083.54 1099.54 1115.54 1131.54" y="0">.749</text>
<text transform="translate(0 1135.3) scale(0.65 1)" x="1096.46 1112.46 1128.46 1144.46 1160.46" y="0">I9.02</text>
<text transform="translate(0 1183.9) scale(0.65 1)" x="1193.85 1209.85 1225.85 1241.85" y="0">.876</text>
<text transform="translate(0 1203.0) scale(0.65 1)" x="1209.69 1225.69 1241.69 1257.69 1273.69" y="0">22.24</text>
<text transform="translate(0 1251.6) scale(0.65 1)" x="1077.85 1093.85 1125.85 1141.85 1157.85 1173.85" y="0">4X.260</text>
<text transform="translate(0 1271.2) scale(0.65 1)" x="1140.62 1156.62 1172.62" y="0">6.6</text>
<text transform="translate(0 1273.3) scale(0.65 1)" x="433.85 449.85 481.85 497.85 513.85 529.85" y="0">2X.II5</text>
<text transform="translate(0 1292.5) scale(0.65 1)" x="497.54 513.54 529.54 545.54" y="0">2.92</text>
<text transform="translate(0 1273.4) scale(0.65 1)" x="911.23 927.23 959.23 975.23 991.23 1007.23" y="0">2X.I87</text>
<text transform="translate(0 1292.9) scale(0.65 1)" x="974.31 990.31 1006.31 1022.31" y="0">4.75</text>
<text transform="translate(0 1331.7) scale(0.65 1)" x="421.85 437.85 469.85 485.85 501.85 517.85" y="0">2X.256</text>
<text transform="translate(0 1350.8) scale(0.65 1)" x="485.23 501.23 517.23 533.23" y="0">6.49</text>
<text transform="translate(0 1332.4) scale(0.65 1)" x="933.38 949.38 981.38 997.38 1013.38 1029.38" y="0">2X.249</text>
<text transform="translate(0 1351.6) scale(0.65 1)" x="997.23 1013.23 1029.23 1045.23" y="0">6.32</text>
<text transform="translate(0 870.3) scale(0.65 1)" x="1607.08 1623.08 1639.08 1655.08" y="0">.759</text>
<text transform="translate(0 889.7) scale(0.65 1)" x="1621.38 1637.38 1653.38 1669.38 1685.38" y="0">I9.28</text>
<text transform="translate(0 918.7) scale(0.65 1)" x="1610.15 1626.15 1642.15 1658.15" y="0">.270</text>
<text transform="translate(0 938.3) scale(0.65 1)" x="1624.46 1640.46 1656.46 1672.46" y="0">6.86</text>
<text transform="translate(0 1246.9) scale(0.65 1)" x="1584.46 1600.46 1616.46 1632.46" y="0">.840</text>
<text transform="translate(0 1266.4) scale(0.65 1)" x="1600.15 1616.15 1632.15 1648.15 1664.15" y="0">2I.32</text></g>
</svg>
<!--/DRAWING-->
</body></html>
